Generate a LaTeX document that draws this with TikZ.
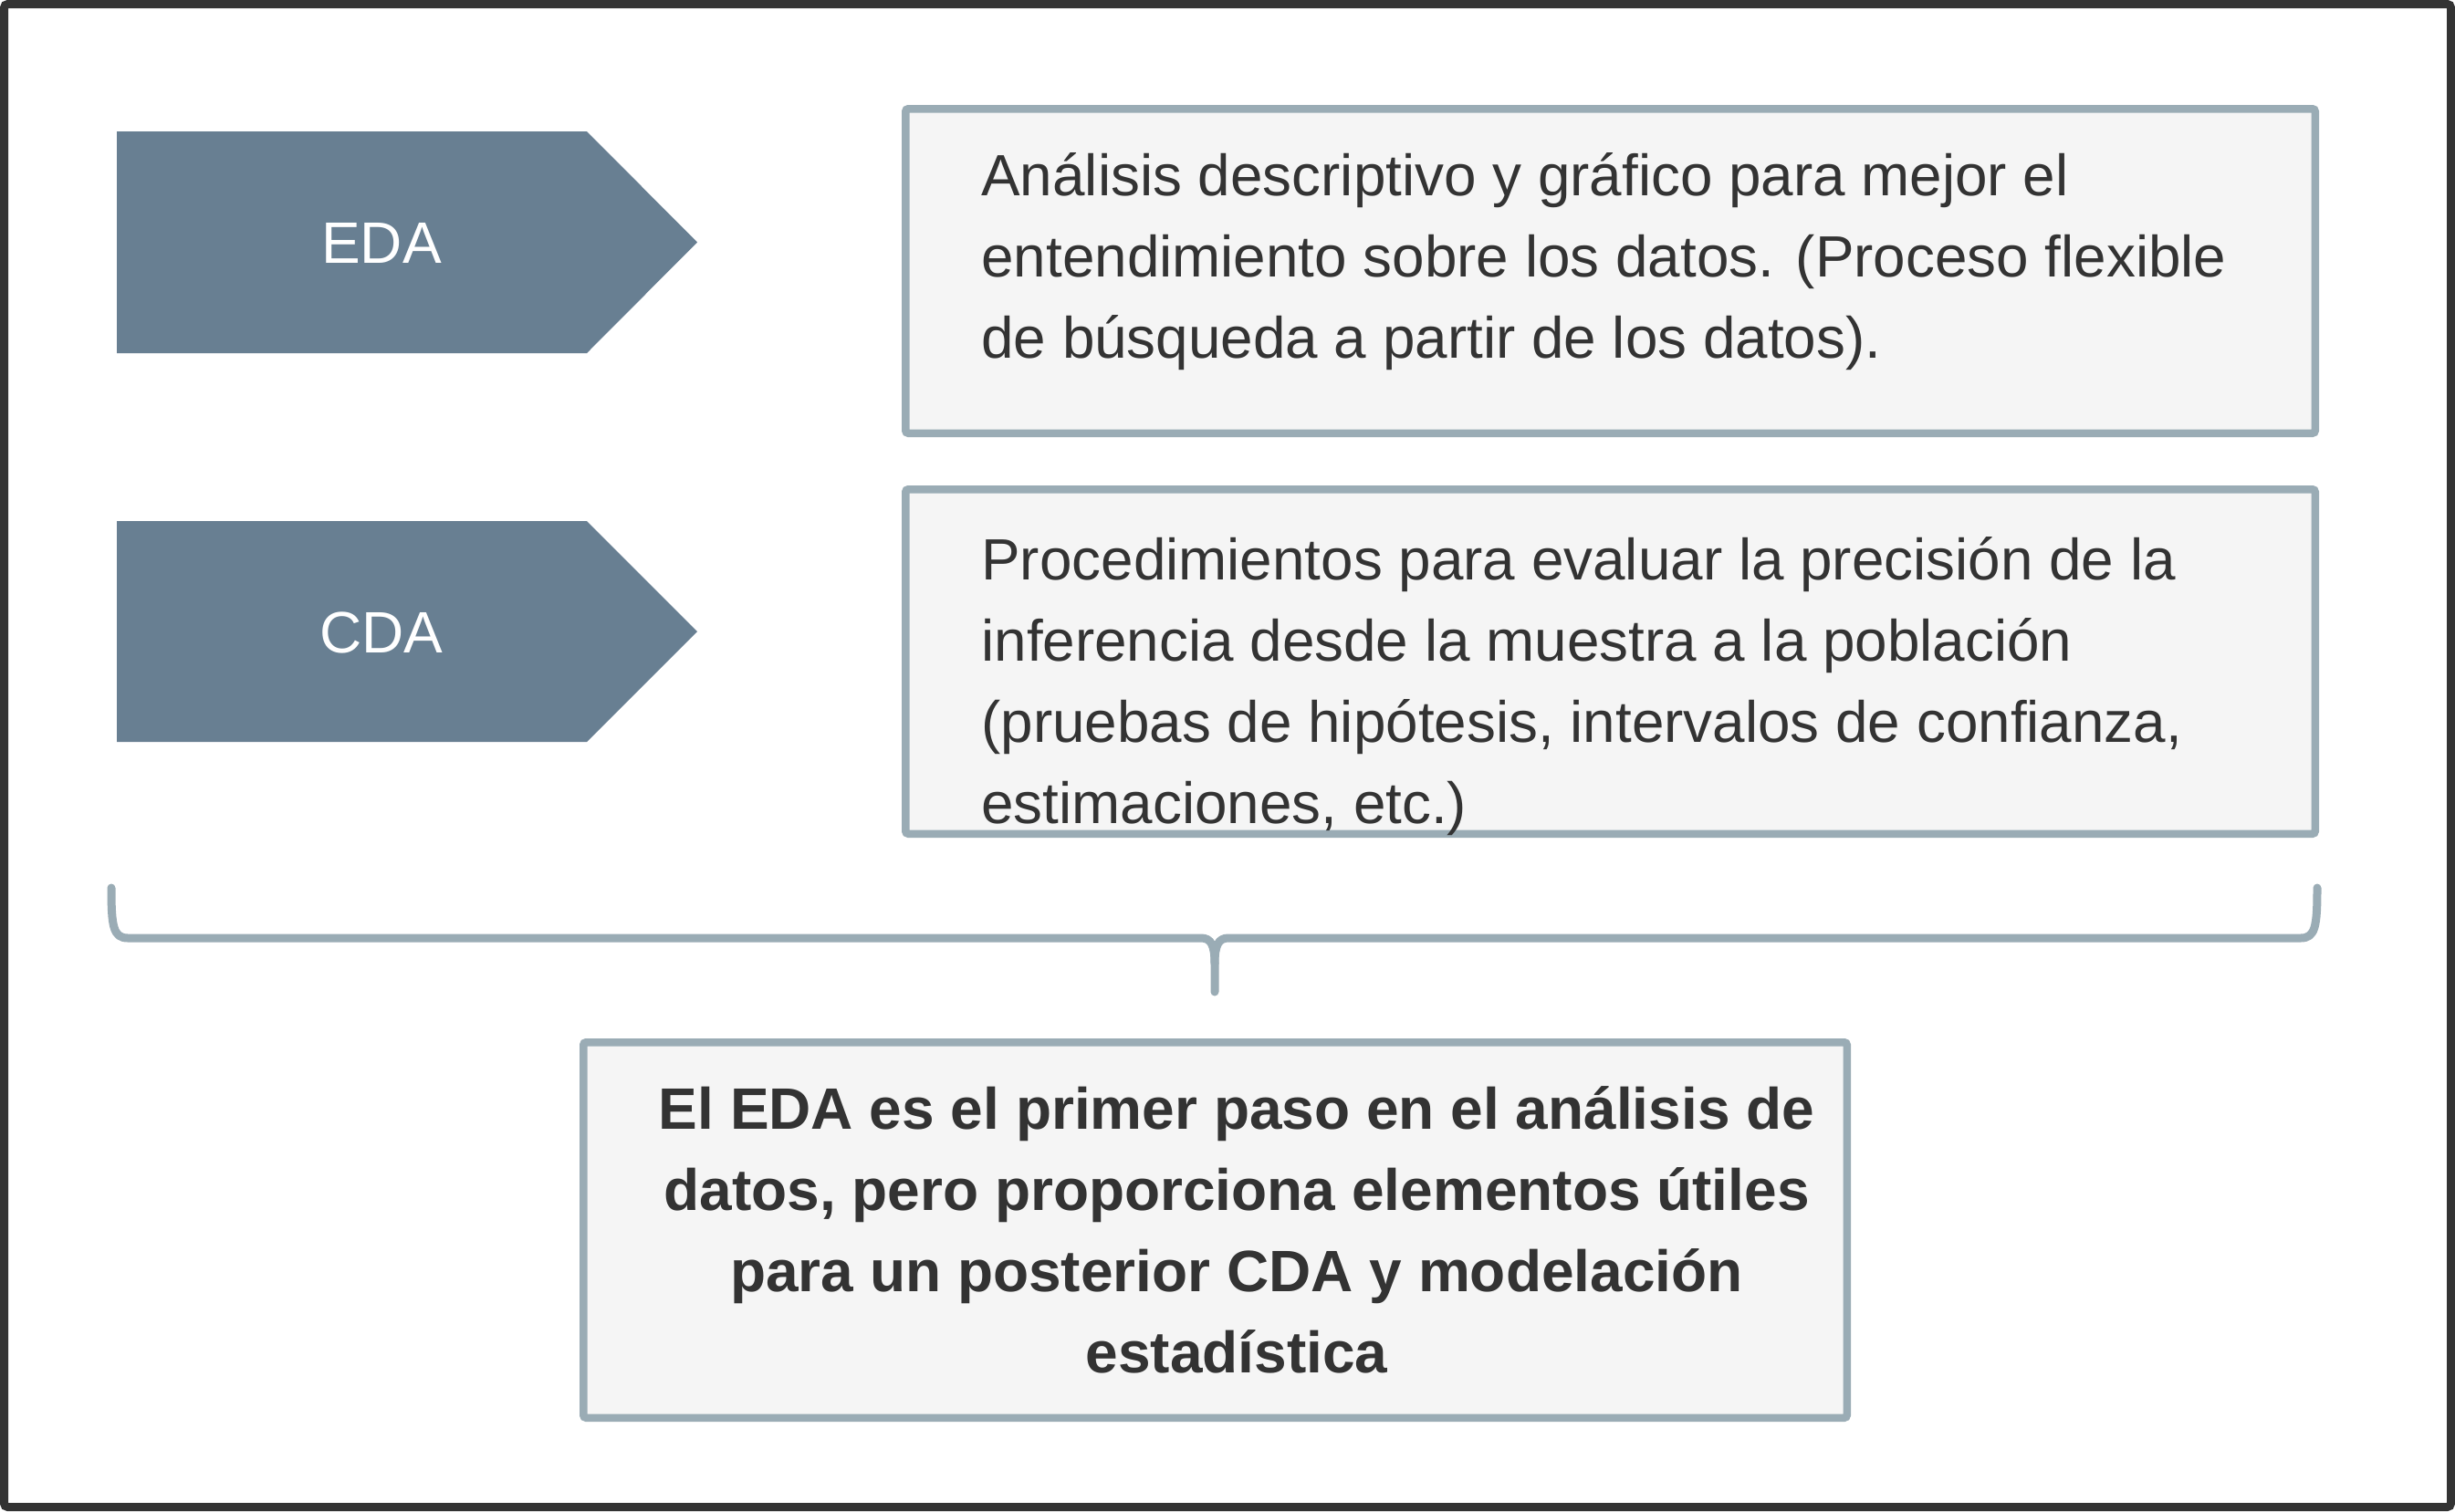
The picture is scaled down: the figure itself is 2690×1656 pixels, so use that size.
\documentclass[tikz,border=0pt]{standalone}
\usepackage{fontspec}
\setmainfont{Liberation Sans}
\definecolor{framec}{HTML}{333333}
\definecolor{chevc}{HTML}{687F92}
\definecolor{boxline}{HTML}{9AACB5}
\definecolor{boxfill}{HTML}{F5F5F5}
\definecolor{txt}{HTML}{333333}
\begin{document}
\begin{tikzpicture}[x=0.5pt,y=-0.5pt,
 outerframe/.style={draw=framec,line width=4.5pt,rounded corners=2pt},
 chevron/.style={fill=chevc},
 chevlabel/.style={text=white,font=\fontsize{32}{38}\selectfont,inner sep=0pt},
 infobox/.style={draw=boxline,fill=boxfill,line width=4.25pt,rounded corners=1.5pt},
 infotext/.style={text=txt,font=\fontsize{31.9}{44.5}\selectfont,align=left,anchor=base west,inner sep=0pt},
 bracestroke/.style={draw=boxline,line width=4.5pt,line cap=round,line join=round},
 concl/.style={text=txt,font=\bfseries\fontsize{32}{44.5}\selectfont,align=center,anchor=base,inner sep=0pt}]
\useasboundingbox (0,0) rectangle (2690,1656);
\fill[white] (0,0) rectangle (2690,1656);
\draw[outerframe] (4.5,4.5) rectangle (2685.5,1651.5);
% chevrons
\fill[chevron] (128,144) -- (643,144) -- (764,265.5) -- (643,387) -- (128,387) -- cycle;
\node[chevlabel] (eda) at (418,266) {EDA};
\fill[chevron] (128,571) -- (643,571) -- (764,692) -- (643,813) -- (128,813) -- cycle;
\node[chevlabel] (cda) at (418,693) {CDA};
% boxes (text nodes anchored at the baseline of their last line)
\draw[infobox] (992.25,119.25) rectangle (2536.75,474.75);
\node[infotext] (t1) at (1075,392) {Análisis descriptivo y gráfico para mejor el\\entendimiento sobre los datos. (Proceso flexible\\de búsqueda a partir de los datos).};
\draw[infobox] (992.25,536.25) rectangle (2536.75,913.75);
\node[infotext] (t2) at (1075,902) {Procedimientos para evaluar la precisión de la\\inferencia desde la muestra a la población\\(pruebas de hipótesis, intervalos de confianza,\\estimaciones, etc.)};
% brace
\coordinate (bl) at (122,973);
\coordinate (br) at (2539,973);
\coordinate (bt) at (1331,1087);
\draw[bracestroke] (bl) .. controls (122,1015) and (124,1028) .. (140,1028) -- (1316,1028) .. controls (1327,1028) and (1331,1036) .. (1331,1056) -- (bt);
\draw[bracestroke] (br) .. controls (2539,1015) and (2537,1028) .. (2521,1028) -- (1346,1028) .. controls (1335,1028) and (1331,1036) .. (1331,1056);
% conclusion
\draw[infobox] (639.25,1142.25) rectangle (2023.75,1553.75);
\node[concl] (t3) at (1355,1504) {El EDA es el primer paso en el análisis de\\datos, pero proporciona elementos útiles\\para un posterior CDA y modelación\\estadística};
\end{tikzpicture}
\end{document}
